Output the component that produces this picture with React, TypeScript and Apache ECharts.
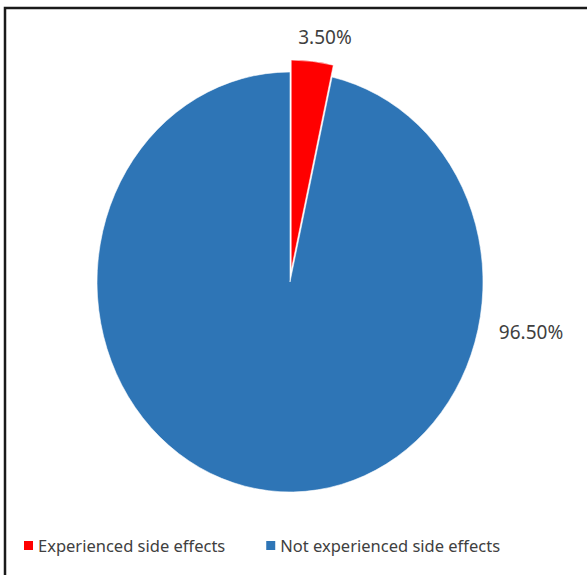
import React, { useEffect, useRef } from "react";
import * as echarts from "echarts";

// Share of respondents (%)
const categories = ["Experienced side effects", "Not experienced side effects"];
const values = [3.5, 96.5];
const colors = ["#FF0000", "#2E75B6"];
// Pull-out distance (px) of each slice from the centre
const explode = [12, 0];

// Pie geometry: the plot area is slightly narrower than tall
const CX = 290;
const CY = 282;
const R = 210;
const SX = 0.919;

// Label anchor points (px) for each slice's percentage text
const labelAnchors: [number, number][] = [
  [325, 37],
  [531, 332],
];

const total = values.reduce((a, b) => a + b, 0);

function sliceAngles(i: number): [number, number] {
  const before = values.slice(0, i).reduce((a, b) => a + b, 0);
  const a0 = (before / total) * Math.PI * 2 - Math.PI / 2;
  const a1 = ((before + values[i]) / total) * Math.PI * 2 - Math.PI / 2;
  return [a0, a1];
}

function makeSlice(i: number) {
  return {
    type: "custom",
    name: categories[i],
    coordinateSystem: "none",
    itemStyle: { color: colors[i] },
    data: [[values[i]]],
    silent: true,
    renderItem: (_params: any, api: any) => {
      const v = api.value(0);
      const [a0, a1] = sliceAngles(i);
      const mid = (a0 + a1) / 2;
      const off = explode[i];
      return {
        type: "group",
        children: [
          {
            type: "group",
            x: CX,
            y: CY,
            scaleX: SX,
            children: [
              {
                type: "sector",
                shape: {
                  cx: off * Math.cos(mid),
                  cy: off * Math.sin(mid),
                  r0: 0,
                  r: R,
                  startAngle: a0,
                  endAngle: a1,
                  clockwise: true,
                },
                style: { fill: colors[i], stroke: "#ffffff", lineWidth: 0.6 },
              },
            ],
          },
          {
            type: "text",
            x: labelAnchors[i][0],
            y: labelAnchors[i][1],
            style: {
              text: v.toFixed(2) + "%",
              fontFamily: "Noto Sans",
              fontSize: 19,
              fill: "#3f3f3f",
              align: "center",
              verticalAlign: "middle",
            },
          },
        ],
      };
    },
  };
}

export default function App() {
  const ref = useRef<HTMLDivElement>(null);

  useEffect(() => {
    document.body.style.margin = "0";
    const chart = echarts.init(ref.current!, null, { renderer: "svg" });
    chart.setOption({
      animation: false,
      backgroundColor: "#ffffff",
      legend: {
        top: 532,
        left: 19,
        icon: "rect",
        itemWidth: 9,
        itemHeight: 9,
        itemGap: 41,
        textStyle: {
          fontFamily: "Noto Sans",
          fontSize: 16.5,
          color: "#404040",
        },
        data: categories,
      },
      graphic: [
        {
          type: "polyline",
          shape: {
            points: [
              [5, 575],
              [5, 8],
              [587, 8],
            ],
          },
          style: { stroke: "#1a1a1a", lineWidth: 2.5, fill: "none" },
          z: 10,
        },
      ],
      series: categories.map((_, i) => makeSlice(i)),
    });
    return () => chart.dispose();
  }, []);

  return <div ref={ref} style={{ width: 587, height: 575 }} />;
}
